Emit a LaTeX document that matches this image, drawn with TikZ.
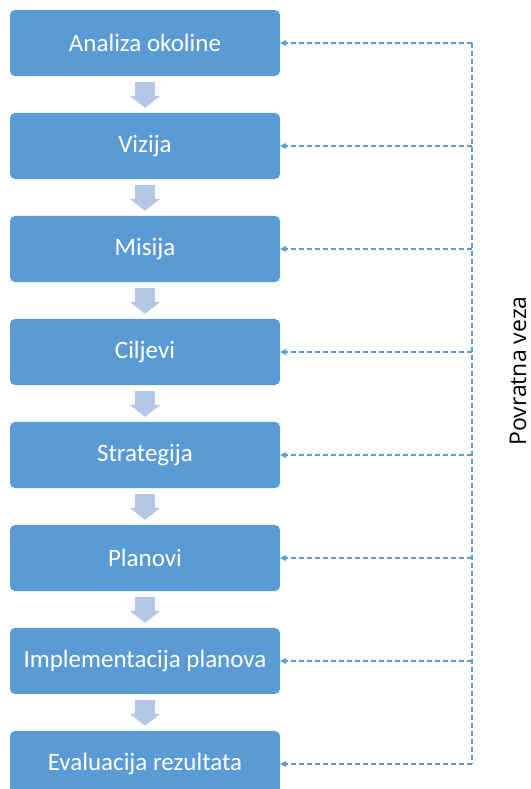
\documentclass[tikz,border=0pt]{standalone}
\usepackage{fontspec}
\setmainfont{Carlito}
\newfontfamily\sideFont{Open Sans}
\usepackage{tikz}
\usetikzlibrary{positioning}
\usetikzlibrary{arrows.meta}
\definecolor{stageBlue}{HTML}{5B9BD5}
\definecolor{arrowBlue}{HTML}{B4C7E7}

\begin{document}
\begin{tikzpicture}[font = \fontsize{25bp}{29bp}\selectfont,
                    stageRectangle/.style = {rectangle, rounded corners = 5bp, fill = stageBlue, text = white,
                                             minimum width = 270bp, minimum height = 66bp, inner sep = 0pt},
                    flowArrow/.style = {draw = arrowBlue, line width = 20bp, -{Triangle[width = 30bp, length = 12bp]}},
                    feedbackLine/.style = {draw = stageBlue, line width = 1.1bp, dash pattern = on 5bp off 3bp},
                    feedbackArrow/.style = {feedbackLine, -{Triangle[width = 6bp, length = 6bp]}}]
    \useasboundingbox (0,0) rectangle (531bp,-789bp);

    \node [stageRectangle] at (145bp,-43bp)           (stage1) {Analiza okoline};
    \node [stageRectangle, below = 36.6bp of stage1] (stage2) {Vizija};
    \node [stageRectangle, below = 36.6bp of stage2] (stage3) {Misija};
    \node [stageRectangle, below = 36.6bp of stage3] (stage4) {Ciljevi};
    \node [stageRectangle, below = 36.6bp of stage4] (stage5) {Strategija};
    \node [stageRectangle, below = 36.6bp of stage5] (stage6) {Planovi};
    \node [stageRectangle, below = 36.6bp of stage6] (stage7) {Implementacija planova};
    \node [stageRectangle, below = 36.6bp of stage7] (stage8) {Evaluacija rezultata};

    % block arrows between the stages
    \foreach \a/\b in {1/2, 2/3, 3/4, 4/5, 5/6, 6/7, 7/8}
        \draw [flowArrow] ([yshift = -6bp]stage\a.south) -- ([yshift = 5bp]stage\b.north);

    % feedback loop on the right
    \foreach \i in {1,...,8}
        \coordinate (feedback\i) at (472bp,0 |- stage\i.east);
    \draw [feedbackLine] (feedback1) -- (feedback8);
    \foreach \i in {1,...,8}
        \draw [feedbackArrow] (feedback\i) -- (stage\i.east);

    \node [rotate = 90, anchor = base, inner sep = 0pt, font = \sideFont\fontsize{23bp}{27bp}\selectfont]
        at (526bp,-371bp) (feedbackLabel) {Povratna veza};
\end{tikzpicture}
\end{document}
